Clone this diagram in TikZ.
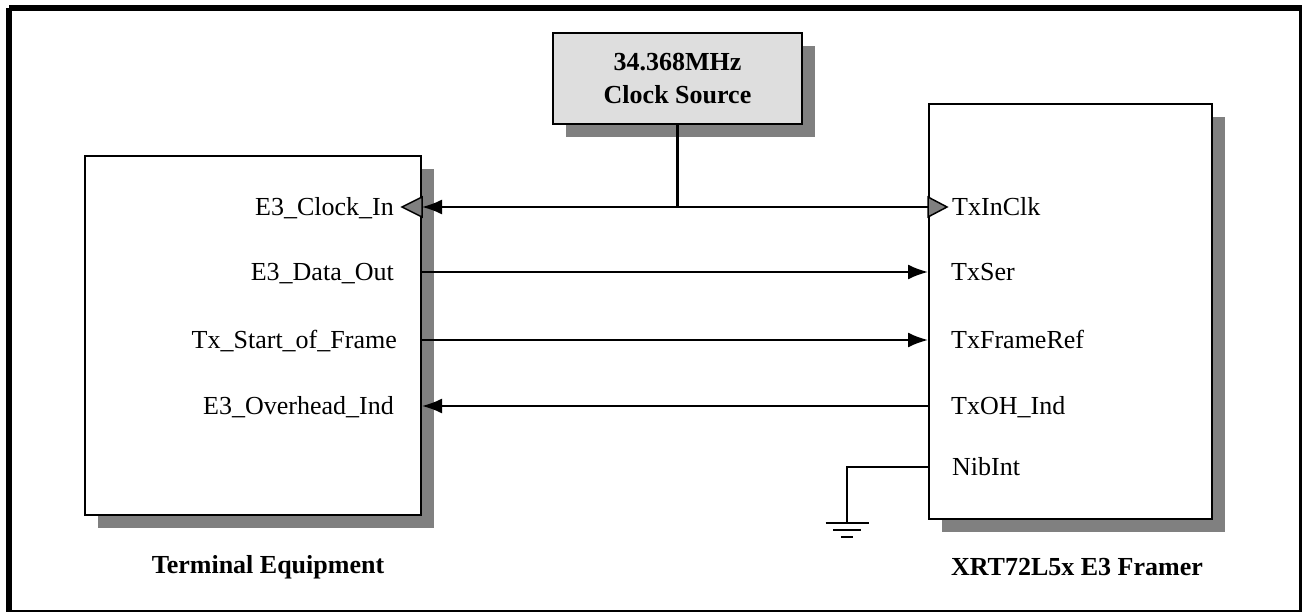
\documentclass[tikz,border=0pt]{standalone}
\usepackage{fontspec}
\setmainfont{Liberation Serif}
\usetikzlibrary{arrows.meta, shadows}

\definecolor{shadowgray}{RGB}{128,128,128}
\definecolor{srcgray}{RGB}{222,222,222}

\tikzstyle{block} = [
    rectangle,
    draw=black,
    line width=2pt,
    fill=white,
    drop shadow={shadow xshift=13pt, shadow yshift=-13pt,
                 fill=shadowgray, opacity=1}
]
\tikzstyle{sig} = [
    font=\fontsize{26}{30}\selectfont,
    inner sep=0pt,
    text height=17pt,
    text depth=0pt
]
\tikzstyle{blocklabel} = [
    font=\fontsize{26}{33}\selectfont\bfseries,
    inner sep=0pt
]
\tikzstyle{arrow} = [line width=2pt, -{Latex[length=20pt,width=15pt]}]
\tikzstyle{wire} = [line width=2pt]
\tikzstyle{bus} = [line width=3.5pt]
\tikzstyle{clkpin} = [draw=black, line width=1.5pt, fill=shadowgray]

\begin{document}
\begin{tikzpicture}[x=1pt, y=-1pt]

\useasboundingbox (0,0) rectangle (1302,612);
\draw [line width=6pt] (9,8) -- (1302,8) (9,8) -- (9,612);
\draw [line width=2pt] (9,611) -- (1302,611);
\draw [line width=6pt] (1302,8) -- (1302,612);

\node (term) [block, minimum width=336pt, minimum height=359pt]
at (253,335.5) {};

\node (framer) [block, minimum width=283pt, minimum height=415pt]
at (1070.5,311.5) {};

\node (src) [block, fill=srcgray, minimum width=249pt, minimum height=91pt,
    align=center, blocklabel] at (677.5,78.5)
{34.368MHz\\Clock Source};

\node (clkin) [sig, anchor=east] at (394,207) {E3\_Clock\_In};
\node (dout) [sig, anchor=east] at (394,272) {E3\_Data\_Out};
\node (sof) [sig, anchor=east] at (397,340) {Tx\_Start\_of\_Frame};
\node (ohind) [sig, anchor=east] at (394,406) {E3\_Overhead\_Ind};

\node (txinclk) [sig, anchor=west] at (952,207) {TxInClk};
\node (txser) [sig, anchor=west] at (951,272) {TxSer};
\node (txfref) [sig, anchor=west] at (951,340) {TxFrameRef};
\node (txoh) [sig, anchor=west] at (951,406) {TxOH\_Ind};
\node (nibint) [sig, anchor=west] at (952,467) {NibInt};

\node (termname) [blocklabel] at (268,567) {Terminal Equipment};
\node (framername) [blocklabel] at (1077,567) {XRT72L5x E3 Framer};

% clock distribution
\draw [bus] (src.south) -- (src.south |- clkin);
\draw [arrow] (framer.west |- txinclk) -- (term.east |- clkin);
\draw [clkpin] (term.east |- clkin) ++(0,-10) -- ++(-20,10) -- ++(20,10) -- cycle;
\draw [clkpin] (framer.west |- txinclk) ++(0,-10) -- ++(19,10) -- ++(-19,10) -- cycle;

% data signals
\draw [arrow] (term.east |- dout) -- (framer.west |- txser);
\draw [arrow] (term.east |- sof) -- (framer.west |- txfref);
\draw [arrow] (framer.west |- txoh) -- (term.east |- ohind);

% NibInt tied to ground
\coordinate (gnd) at (847,523);
\draw [wire] (framer.west |- nibint) -| (gnd);
\draw [wire] (gnd) ++(-21.5,0) -- ++(43,0)
    (gnd) ++(-14,7) -- ++(28,0)
    (gnd) ++(-6,14) -- ++(12,0);

\end{tikzpicture}
\end{document}
